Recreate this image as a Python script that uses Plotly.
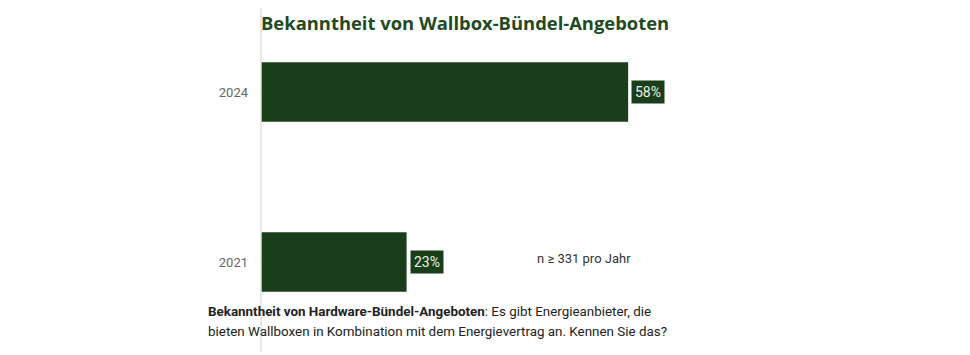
import plotly.graph_objects as go

categories = ["2021", "2024"]
values = [23, 58]
value_labels = ["23%", "58%"]

title_text = "Bekanntheit von Wallbox-Bündel-Angeboten"
note_text = "n ≥ 331 pro Jahr"
caption_bold = "Bekanntheit von Hardware-Bündel-Angeboten"
caption_line1 = ": Es gibt Energieanbieter, die"
caption_line2 = "bieten Wallboxen in Kombination mit dem Energievertrag an. Kennen Sie das?"

bar_color = "#1a3e1a"
title_color = "#1f4a22"

# page has 8px body margin; figure coords = page coords - 8
L, T = 253, 32
PW, PH = 633, 255


def px(xp):
    return (xp - 8 - L) / PW


def py(yp):
    return (T + PH - (yp - 8)) / PH


fig = go.Figure(go.Bar(
    x=values, y=categories, orientation="h",
    marker=dict(color=bar_color, line=dict(width=0)),
    width=0.35, hoverinfo="skip",
))

annotations = []
for i, (v, t) in enumerate(zip(values, value_labels)):
    annotations.append(dict(
        x=v, y=i, xref="x", yref="y", text=t, showarrow=False,
        xanchor="left", yanchor="middle", xshift=3,
        bgcolor=bar_color, borderpad=3,
        font=dict(family="Roboto, Liberation Sans, sans-serif", size=14, color="#eaf4e6"),
    ))

annotations.append(dict(
    x=px(535), y=py(258), xref="paper", yref="paper",
    text=note_text, showarrow=False, xanchor="left", yanchor="middle",
    font=dict(family="Roboto, Liberation Sans, sans-serif", size=13, color="#333333"),
))
annotations.append(dict(
    x=px(206), y=py(311), xref="paper", yref="paper",
    text="<b>" + caption_bold + "</b>" + caption_line1, showarrow=False,
    xanchor="left", yanchor="middle",
    font=dict(family="Roboto, Liberation Sans, sans-serif", size=13.4, color="#222222"),
))
annotations.append(dict(
    x=px(206), y=py(331), xref="paper", yref="paper",
    text=caption_line2, showarrow=False,
    xanchor="left", yanchor="middle",
    font=dict(family="Roboto, Liberation Sans, sans-serif", size=13.4, color="#222222"),
))
annotations.append(dict(
    x=px(259), y=py(22), xref="paper", yref="paper",
    text="<b>" + title_text + "</b>", showarrow=False,
    xanchor="left", yanchor="middle",
    font=dict(family="Open Sans, sans-serif", size=18.4, color=title_color),
))

fig.update_layout(
    width=962, height=347,
    margin=dict(l=L, r=962 - L - PW, t=T, b=347 - T - PH),
    paper_bgcolor="white", plot_bgcolor="white",
    showlegend=False,
    annotations=annotations,
    shapes=[dict(type="line", xref="paper", yref="paper",
                 x0=0, x1=0, y0=py(352), y1=py(6),
                 line=dict(color="#e0e0e0", width=1.5))],
    xaxis=dict(range=[0, 100], showticklabels=False, showgrid=False,
               zeroline=False, showline=False, ticks="", fixedrange=True),
    yaxis=dict(
        type="category",
        range=[-0.194, 1.306], showgrid=False, zeroline=False, showline=False,
        ticks="", ticklabelstandoff=12,
        tickfont=dict(family="Roboto, Liberation Sans, sans-serif", size=13, color="#666666"),
        fixedrange=True,
    ),
)

fig.write_html("out.html")
